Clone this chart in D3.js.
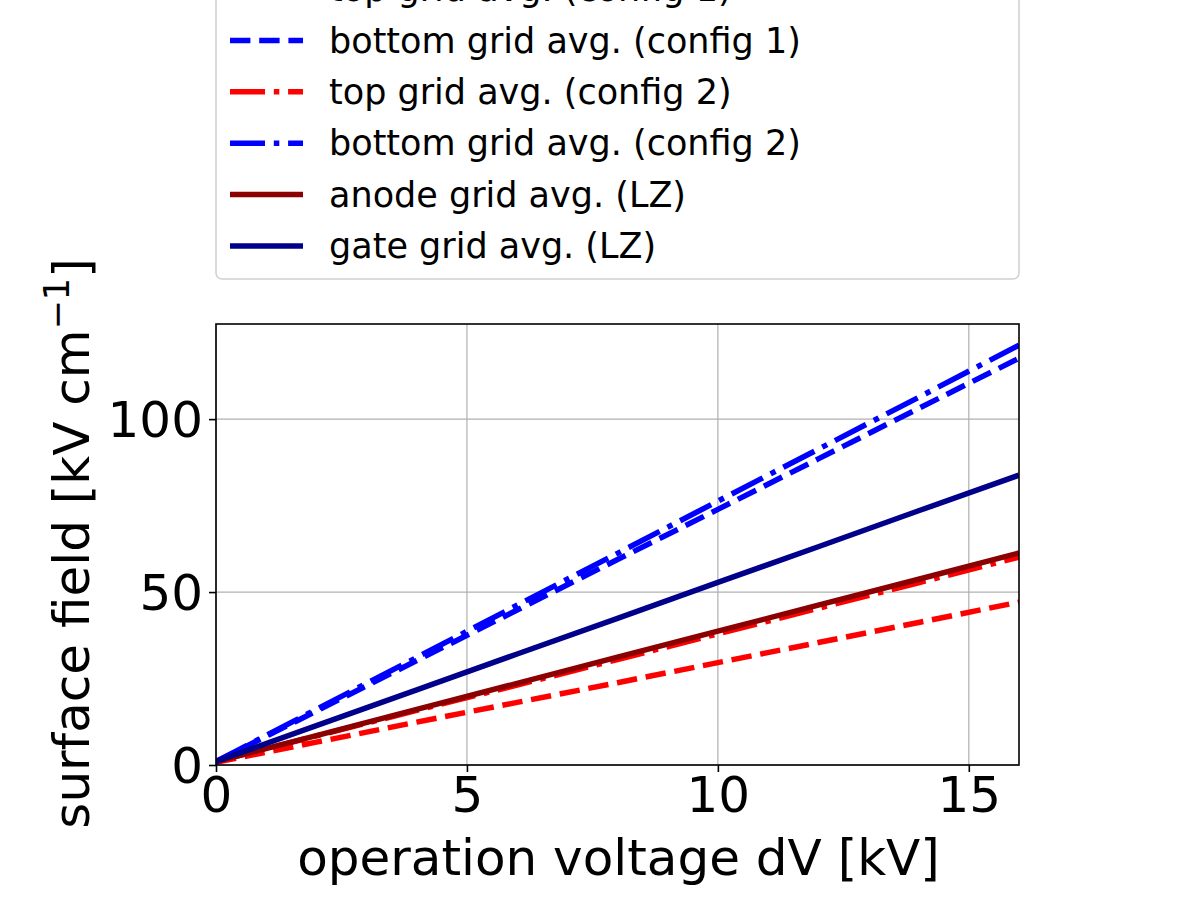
<!DOCTYPE html>
<html><head><meta charset="utf-8">
<script src="https://cdn.jsdelivr.net/npm/d3@7"></script>
<style>body{margin:0;background:#fff}text{font-family:"DejaVu Sans",sans-serif}</style>
</head><body>
<svg id="c" width="1200" height="900"></svg>
<script>
// voltage samples [kV]
var voltages = [0, 2, 4, 6, 8, 10, 12, 14, 16];
// surface field [kV/cm]
var topC1 = [0.8, 6.6, 12.4, 18.1, 23.8, 29.6, 35.4, 41.2, 47.1];
var bottomC1 = [1.0, 15.6, 30.2, 44.8, 59.4, 73.9, 88.5, 103.1, 117.6];
var topC2 = [1.0, 8.4, 15.8, 23.1, 30.5, 37.9, 45.3, 52.7, 60.1];
var bottomC2 = [1.0, 16.1, 31.1, 46.2, 61.2, 76.3, 91.3, 106.3, 121.4];
var anodeLZ = [1.0, 8.5, 16.1, 23.6, 31.2, 38.7, 46.2, 53.7, 61.3];
var gateLZ = [1.0, 11.4, 21.7, 32.1, 42.4, 52.8, 63.1, 73.5, 83.8];
var seriesNames = ['top grid avg. (config 1)', 'bottom grid avg. (config 1)', 'top grid avg. (config 2)',
  'bottom grid avg. (config 2)', 'anode grid avg. (LZ)', 'gate grid avg. (LZ)'];
var xTicks = [0, 5, 10, 15];
var yTicks = [0, 50, 100];

var dashed = '20.4,8.8', dashdot = '35,8.8,5.5,8.8';
var series = [
  {name: seriesNames[0], v: topC1, color: '#ff0000', dash: dashed},
  {name: seriesNames[1], v: bottomC1, color: '#0000ff', dash: dashed},
  {name: seriesNames[2], v: topC2, color: '#ff0000', dash: dashdot},
  {name: seriesNames[3], v: bottomC2, color: '#0000ff', dash: dashdot},
  {name: seriesNames[4], v: anodeLZ, color: '#8b0000', dash: null},
  {name: seriesNames[5], v: gateLZ, color: '#00008b', dash: null}
];

var svg = d3.select('#c');
var L = 216, R = 1019, T = 324, B = 765;
var x = d3.scaleLinear().domain([0, 16]).range([L, R]);
var y = d3.scaleLinear().domain([0, 127.5]).range([B, T]);

// grid
var g = svg.append('g');
g.selectAll('.gx').data(xTicks).enter().append('line')
  .attr('x1', d => x(d)).attr('x2', d => x(d)).attr('y1', T).attr('y2', B)
  .attr('stroke', '#b0b0b0').attr('stroke-width', 1.2);
g.selectAll('.gy').data(yTicks).enter().append('line')
  .attr('x1', L).attr('x2', R).attr('y1', d => y(d)).attr('y2', d => y(d))
  .attr('stroke', '#b0b0b0').attr('stroke-width', 1.2);

// lines
svg.append('clipPath').attr('id', 'clp').append('rect')
  .attr('x', L).attr('y', T).attr('width', R - L).attr('height', B - T);
var line = d3.line().x((d, i) => x(voltages[i])).y(d => y(d));
svg.append('g').attr('clip-path', 'url(#clp)').selectAll('path').data(series).enter().append('path')
  .attr('d', d => line(d.v)).attr('fill', 'none').attr('stroke', d => d.color)
  .attr('stroke-width', 5.5).attr('stroke-dasharray', d => d.dash);

// frame
svg.append('rect').attr('x', L).attr('y', T).attr('width', R - L).attr('height', B - T)
  .attr('fill', 'none').attr('stroke', '#000').attr('stroke-width', 1.6);

// axes
var xa = svg.append('g').attr('transform', 'translate(0,' + B + ')')
  .call(d3.axisBottom(x).tickValues(xTicks).tickSize(7).tickPadding(4));
var ya = svg.append('g').attr('transform', 'translate(' + L + ',0)')
  .call(d3.axisLeft(y).tickValues(yTicks).tickSize(7).tickPadding(6));
[xa, ya].forEach(function(a) {
  a.select('.domain').remove();
  a.selectAll('line').attr('stroke-width', 1.6);
  a.selectAll('text').style('font-family', '"DejaVu Sans",sans-serif').style('font-size', '50px').attr('fill', '#000');
});
ya.selectAll('text').attr('dy', '0.35em');

svg.append('text').attr('x', (L + R) / 2 + 1).attr('y', 875).attr('text-anchor', 'middle')
  .style('font-size', '50px').text('operation voltage dV [kV]');
var yl = svg.append('text').attr('transform', 'translate(89,' + ((T + B) / 2 - 1) + ') rotate(-90)')
  .attr('text-anchor', 'middle').style('font-size', '50px');
yl.append('tspan').text('surface field [kV cm');
yl.append('tspan').attr('dy', -20).style('font-size', '35px').text('\u22121');
yl.append('tspan').attr('dy', 20).text(']');

// legend
svg.append('rect').attr('x', 216).attr('y', -20).attr('width', 803).attr('height', 299)
  .attr('rx', 6).attr('fill', '#fff').attr('stroke', '#d0d0d0').attr('stroke-width', 1.5);
var lg = svg.selectAll('.lg').data(series).enter().append('g')
  .attr('transform', (d, i) => 'translate(0,' + (-11 + i * 51.4) + ')');
lg.append('line').attr('x1', 230).attr('x2', 303).attr('y1', 0).attr('y2', 0)
  .attr('stroke', d => d.color).attr('stroke-width', 5.5).attr('stroke-dasharray', d => d.dash);
lg.append('text').attr('x', 329).attr('y', 0).attr('dy', '0.35em')
  .style('font-size', '35px').text(d => d.name);
</script>
</body></html>
